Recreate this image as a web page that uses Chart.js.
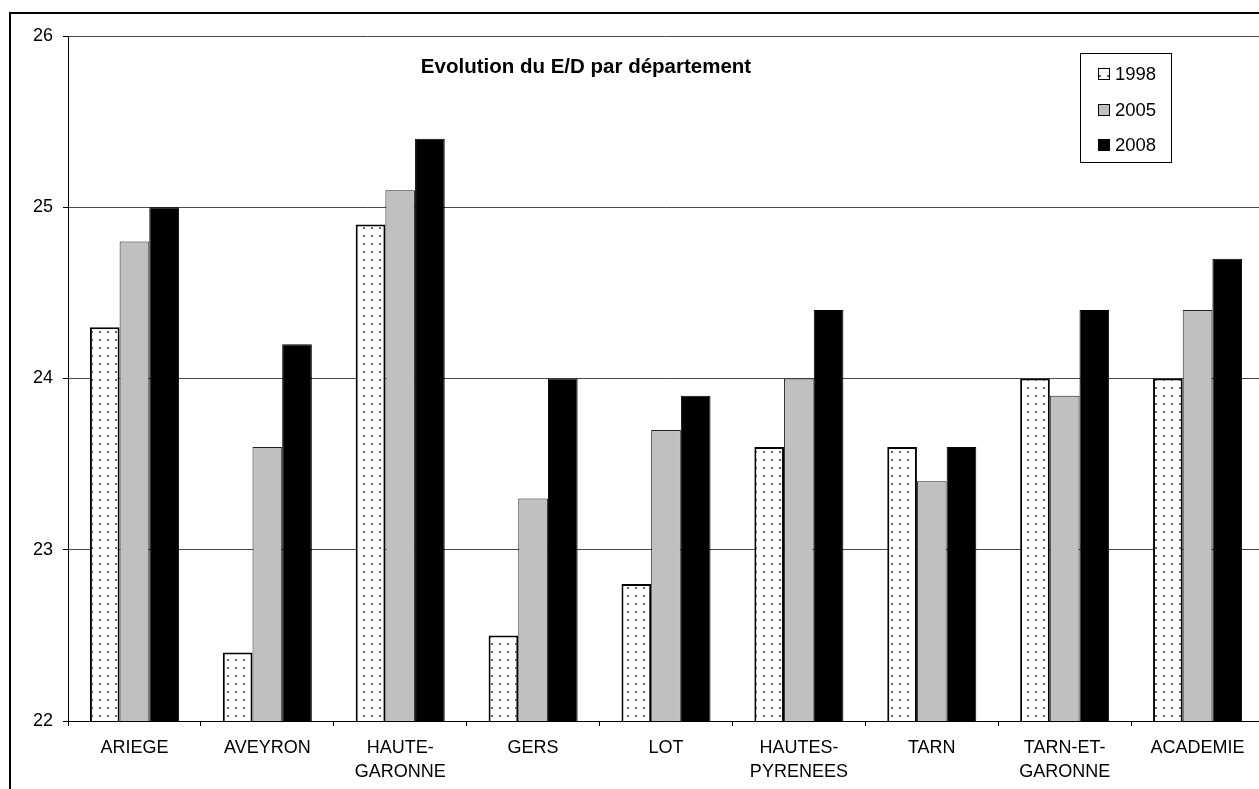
<!DOCTYPE html>
<html lang="fr">
<head>
<meta charset="utf-8">
<title>Evolution du E/D par département</title>
<script src="https://cdn.jsdelivr.net/npm/chart.js@4.4.0/dist/chart.umd.min.js"></script>
<style>
    html, body { margin: 0; padding: 0; background: #fff; overflow: hidden; }
    #wrap { position: relative; width: 1280px; height: 789px; }
</style>
</head>
<body>
<div id="wrap"><canvas id="edChart" width="1280" height="789"></canvas></div>
<script>
// Data
const departements = ['ARIEGE', 'AVEYRON', ['HAUTE-', 'GARONNE'], 'GERS', 'LOT',
    ['HAUTES-', 'PYRENEES'], 'TARN', ['TARN-ET-', 'GARONNE'], 'ACADEMIE'];
const annees = ['1998', '2005', '2008'];
const ed1998 = [24.3, 22.4, 24.9, 22.5, 22.8, 23.6, 23.6, 24.0, 24.0];
const ed2005 = [24.8, 23.6, 25.1, 23.3, 23.7, 24.0, 23.4, 23.9, 24.4];
const ed2008 = [25.0, 24.2, 25.4, 24.0, 23.9, 24.4, 23.6, 24.4, 24.7];
const yTicks = [22, 23, 24, 25, 26];
const chartTitle = 'Evolution du E/D par département';

const fontFamily = '"Liberation Sans", Arial, sans-serif';

// Dotted fill used for the 1998 bars
function makeDots() {
    const c = document.createElement('canvas');
    c.width = 8; c.height = 8;
    const g = c.getContext('2d');
    g.fillStyle = '#fff';
    g.fillRect(0, 0, 8, 8);
    g.fillStyle = '#666';
    g.fillRect(3, 3, 2, 2);
    return g.createPattern(c, 'repeat');
}

// Outer frame (only left and top edges are visible in the picture)
const framePlugin = {
    id: 'frame',
    beforeDraw(chart) {
        const ctx = chart.ctx;
        ctx.save();
        ctx.fillStyle = '#fff';
        ctx.fillRect(0, 0, chart.width, chart.height);
        ctx.fillStyle = '#000';
        ctx.fillRect(9, 12, chart.width, 2);
        ctx.fillRect(9, 12, 2, chart.height);
        ctx.restore();
    }
};

// Title placed inside the plot area, like the original
const titlePlugin = {
    id: 'innerTitle',
    afterDraw(chart) {
        const ctx = chart.ctx;
        ctx.save();
        ctx.font = 'bold 20.5px ' + fontFamily;
        ctx.fillStyle = '#000';
        ctx.textAlign = 'center';
        ctx.textBaseline = 'middle';
        ctx.fillText(chartTitle, 586, 67);
        ctx.restore();
    }
};

// Boxed legend in the top right corner
const legendPlugin = {
    id: 'boxLegend',
    afterDraw(chart) {
        const ctx = chart.ctx;
        ctx.save();
        ctx.fillStyle = '#fff';
        ctx.fillRect(1080, 53, 92, 110);
        ctx.strokeStyle = '#000';
        ctx.lineWidth = 1;
        ctx.strokeRect(1080.5, 53.5, 91, 109);
        ctx.font = '18.5px ' + fontFamily;
        ctx.textBaseline = 'middle';
        chart.data.datasets.forEach((ds, i) => {
            const cy = Math.round(74 + i * 35.6);
            ctx.fillStyle = ds.backgroundColor;
            ctx.fillRect(1098, cy - 6, 12, 12);
            ctx.strokeStyle = '#000';
            ctx.strokeRect(1098.5, cy - 5.5, 11, 11);
            ctx.fillStyle = '#000';
            ctx.fillText(ds.label, 1115, cy + 1);
        });
        ctx.restore();
    }
};

const ctx = document.getElementById('edChart').getContext('2d');
const dots = makeDots();

new Chart(ctx, {
    type: 'bar',
    data: {
        labels: departements,
        datasets: [
            { label: annees[0], data: ed1998, backgroundColor: dots, borderColor: '#000', borderWidth: 2 },
            { label: annees[1], data: ed2005, backgroundColor: '#c0c0c0', borderColor: '#222', borderWidth: 1 },
            { label: annees[2], data: ed2008, backgroundColor: '#000', borderColor: '#000', borderWidth: 1 }
        ]
    },
    options: {
        responsive: false,
        animation: false,
        devicePixelRatio: 1,
        categoryPercentage: 0.67,
        barPercentage: 1.0,
        layout: { padding: { top: 36, left: 0, right: 16, bottom: 0 } },
        plugins: {
            legend: { display: false },
            title: { display: false },
            tooltip: { enabled: false }
        },
        scales: {
            x: {
                afterFit(scale) { scale.height = 68; },
                grid: { display: true, offset: true, drawOnChartArea: false, drawTicks: true, tickLength: 5, color: '#000' },
                border: { display: true, color: '#000', width: 1 },
                ticks: {
                    color: '#000',
                    padding: 10,
                    maxRotation: 0,
                    autoSkip: false,
                    font: { family: fontFamily, size: 18, lineHeight: 1.33 }
                }
            },
            y: {
                min: yTicks[0],
                max: yTicks[yTicks.length - 1],
                afterFit(scale) { scale.width = 68; },
                afterBuildTicks(scale) { scale.ticks = yTicks.map(v => ({ value: v })); },
                grid: { color: '#4a4a4a', tickColor: '#000', tickLength: 5, lineWidth: 1 },
                border: { display: true, color: '#000', width: 1 },
                ticks: {
                    color: '#000',
                    padding: 10,
                    font: { family: fontFamily, size: 18 }
                }
            }
        }
    },
    plugins: [framePlugin, titlePlugin, legendPlugin]
});
</script>
</body>
</html>
